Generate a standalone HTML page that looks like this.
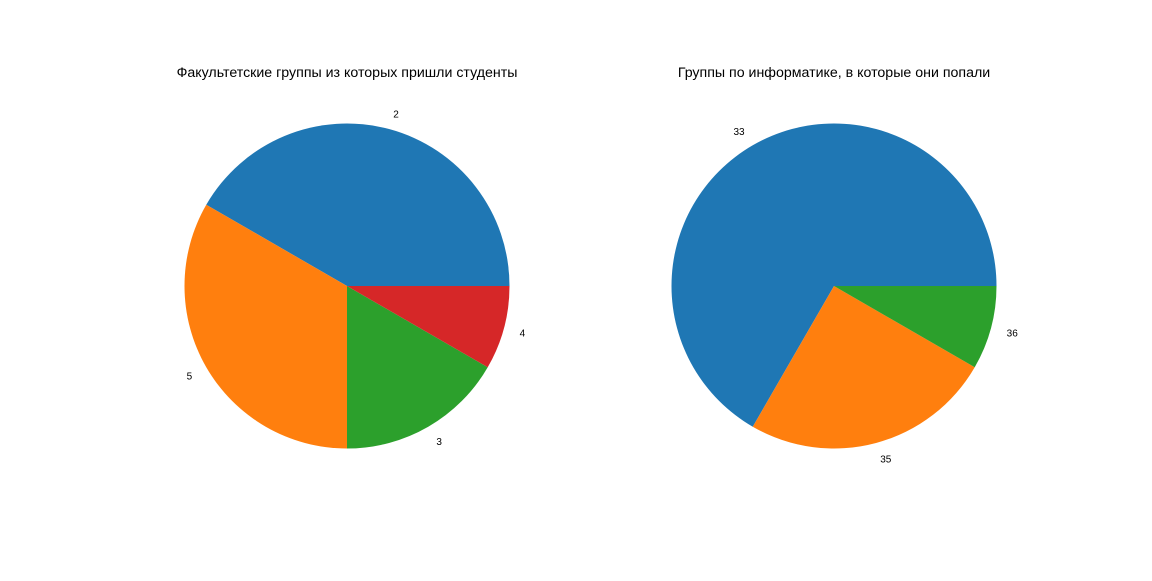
<!DOCTYPE html>
<html><head><meta charset="utf-8">
<style>
body{margin:0;background:#fff;width:1152px;height:576px;overflow:hidden}
svg text{font-family:"Liberation Sans","DejaVu Sans",sans-serif;fill:#000}
</style></head>
<body>
<svg id="chart" width="1152" height="576"></svg>
<script>
const leftLabels = ["2","5","3","4"];
const leftValues = [5,4,2,1];
const rightLabels = ["33","35","36"];
const rightValues = [8,3,1];
const colors = ["#1f77b4","#ff7f0e","#2ca02c","#d62728"];
const NS = "http://www.w3.org/2000/svg";
const svg = document.getElementById("chart");
function pie(cx, cy, r, labels, values, title, name){
  const g = document.createElementNS(NS,"g");
  
  
  svg.appendChild(g);
  const t = document.createElementNS(NS,"text");
  
  
  t.setAttribute("x",cx);t.setAttribute("y",77);t.setAttribute("text-anchor","middle");
  t.setAttribute("font-size","14.2");t.textContent=title;g.appendChild(t);
  const total = values.reduce((a,b)=>a+b,0);
  let a0 = 0;
  values.forEach((v,i)=>{
    const a1 = a0 + v/total*2*Math.PI;
    const x0=cx+r*Math.cos(a0), y0=cy-r*Math.sin(a0);
    const x1=cx+r*Math.cos(a1), y1=cy-r*Math.sin(a1);
    const large = (a1-a0)>Math.PI?1:0;
    const p = document.createElementNS(NS,"path");
    
    
    p.setAttribute("d",`M${cx},${cy}L${x0},${y0}A${r},${r} 0 ${large} 0 ${x1},${y1}Z`);
    p.setAttribute("fill",colors[i]);
    g.appendChild(p);
    const am=(a0+a1)/2;
    const lx=cx+1.1*r*Math.cos(am), ly=cy-1.1*r*Math.sin(am);
    const l=document.createElementNS(NS,"text");
    
    
    l.setAttribute("x",lx);l.setAttribute("y",ly+4);
    l.setAttribute("text-anchor",Math.cos(am)>0.01?"start":(Math.cos(am)<-0.01?"end":"middle"));
    l.setAttribute("font-size","10");l.textContent=labels[i];
    g.appendChild(l);
    a0=a1;
  });
}
pie(347,286,162.5,leftLabels,leftValues,"Факультетские группы из которых пришли студенты","left-pie");
pie(834,286,162.5,rightLabels,rightValues,"Группы по информатике, в которые они попали","right-pie");
</script>
</body></html>
